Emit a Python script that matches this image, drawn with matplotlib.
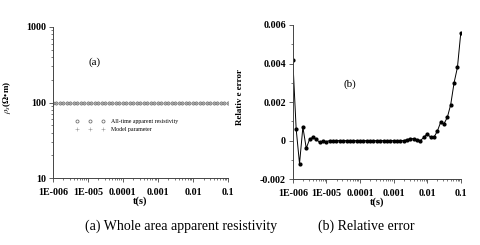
import numpy as np
import matplotlib
matplotlib.use("Agg")
import matplotlib.pyplot as plt
from matplotlib.ticker import FixedLocator, LogLocator, MultipleLocator, NullFormatter

plt.rcParams['font.family'] = ['Liberation Serif', 'DejaVu Serif']
plt.rcParams['mathtext.fontset'] = 'stix'

# ---- data ----
t = np.logspace(-6, -1, 51)  # sampling times (s), 10 per decade
rho_apparent = [100.0] * 51
rho_model = [100.0] * 51
rel_error = [0.0042, 0.0006, -0.0012, 0.0007, -0.0004, 0.00007, 0.00017, 0.00007,
             -0.0001, -0.00002, -0.00005, 0.0,
             0.0, 0.0, 0.0, 0.0, 0.0, 0.0, 0.0, 0.0, 0.0, 0.0, 0.0,
             0.0, 0.0, 0.0, 0.0, 0.0, 0.0, 0.0, 0.0, 0.0, 0.0, 0.0,
             0.00005, 0.0001, 0.0001, 0.00005, 0.0, 0.00017, 0.00035, 0.00017,
             0.00017, 0.00048, 0.00095, 0.00087, 0.00121, 0.00187, 0.0030,
             0.0038, 0.0056]
xtick_vals = [1e-6, 1e-5, 1e-4, 1e-3, 1e-2, 1e-1]
xtick_labels = ["1E-006", "1E-005", "0.0001", "0.001", "0.01", "0.1"]
ytick_left = [10, 100, 1000]
ytick_right = [-0.002, 0, 0.002, 0.004, 0.006]
ytick_right_labels = ["-0.002", "0", "0.002", "0.004", "0.006"]

fig = plt.figure(figsize=(4.8, 2.45), dpi=100)
ax1 = fig.add_axes([0.110, 0.273, 0.365, 0.617])
ax2 = fig.add_axes([0.610, 0.269, 0.350, 0.629])

tick_fs = 7.2
spine_col = '#444444'
for ax in (ax1, ax2):
    ax.spines['top'].set_visible(False)
    ax.spines['right'].set_visible(False)
    for s in ('left', 'bottom'):
        ax.spines[s].set_color(spine_col)
        ax.spines[s].set_linewidth(0.7)
    ax.set_xscale('log')
    ax.set_xlim(1e-6, 0.1)
    ax.xaxis.set_major_locator(FixedLocator(xtick_vals))
    ax.set_xticklabels(xtick_labels, fontsize=tick_fs, fontweight='bold')
    ax.xaxis.set_minor_locator(LogLocator(base=10, subs=np.arange(2, 10), numticks=20))
    ax.xaxis.set_minor_formatter(NullFormatter())
    ax.tick_params(which='major', length=3, width=0.6, color=spine_col, pad=2)
    ax.tick_params(axis='x', which='major', pad=4)
    ax.tick_params(which='minor', length=1.6, width=0.5, color=spine_col)
    ax.set_xlabel("t(s)", fontsize=7.5, fontweight='bold', labelpad=0)

# ---- left panel ----
ax1.set_yscale('log')
ax1.set_ylim(10, 1000)
ax1.yaxis.set_major_locator(FixedLocator(ytick_left))
ax1.set_yticklabels([str(v) for v in ytick_left], fontsize=tick_fs, fontweight='bold')
ax1.yaxis.set_minor_locator(LogLocator(base=10, subs=np.arange(2, 10), numticks=20))
ax1.yaxis.set_minor_formatter(NullFormatter())
ax1.plot(t, rho_apparent, linestyle='none', marker='o', markersize=2.2,
         markerfacecolor='none', markeredgecolor='#666666', markeredgewidth=0.55,
         label='All-time apparent resistivity')
ax1.plot(t, rho_model, linestyle='none', marker='+', markersize=2.5,
         color='#999999', markeredgewidth=0.4, label='Model parameter')
ax1.set_ylabel(r"$\rho_s$(Ω•m)", fontsize=6.5, fontweight='bold')
ax1.yaxis.set_label_coords(-0.225, 0.536)
ax1.text(0.24, 0.768, "(a)", transform=ax1.transAxes, fontsize=8, ha='center', va='center')
leg = ax1.legend(loc='upper left', bbox_to_anchor=(0.13, 0.39), numpoints=3,
                 frameon=False, fontsize=4.2, handlelength=5.0, handletextpad=1.0,
                 labelspacing=0.4, borderaxespad=0, borderpad=0)

# ---- right panel ----
ax2.set_ylim(-0.002, 0.006)
ax2.yaxis.set_major_locator(FixedLocator(ytick_right))
ax2.set_yticklabels(ytick_right_labels, fontsize=tick_fs, fontweight='bold')
ax2.yaxis.set_minor_locator(MultipleLocator(0.001))
ax2.plot(t, rel_error, color='black', linewidth=0.7, marker='o', markersize=2.0,
         markerfacecolor='black', markeredgecolor='black')
ax2.set_ylabel("Relativ e error", fontsize=6.5, fontweight='bold')
ax2.yaxis.set_label_coords(-0.29, 0.53)
ax2.text(0.34, 0.617, "(b)", transform=ax2.transAxes, fontsize=8, ha='center', va='center')

# ---- captions ----
fig.text(0.377, 1 - 226 / 245, "(a) Whole area apparent resistivity", fontsize=10,
         ha='center', va='center')
fig.text(0.763, 1 - 226 / 245, "(b) Relative error", fontsize=10,
         ha='center', va='center')

fig.savefig("out.png", dpi=100, facecolor='white')
